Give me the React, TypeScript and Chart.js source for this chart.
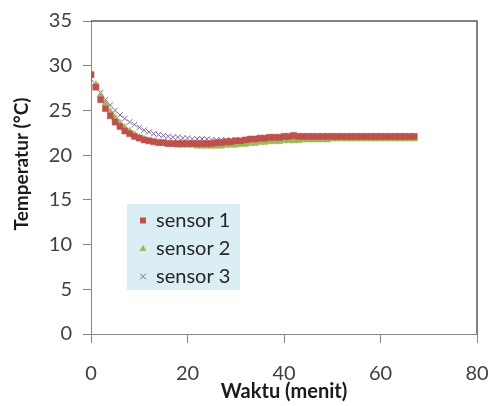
import React, { useEffect, useRef } from "react";
import { Chart, registerables } from "chart.js";

Chart.register(...registerables);

const minutes: number[] = Array.from({ length: 68 }, (_, i) => i);

const sensor1: number[] = [
  29.0, 27.6, 26.2, 25.2, 24.4, 23.7, 23.2, 22.7, 22.4, 22.1,
  21.9, 21.7, 21.6, 21.5, 21.4, 21.4, 21.3, 21.3, 21.3, 21.3,
  21.3, 21.3, 21.3, 21.3, 21.3, 21.3, 21.4, 21.4, 21.5, 21.5,
  21.6, 21.6, 21.7, 21.8, 21.8, 21.9, 21.9, 22.0, 22.0, 22.0,
  22.1, 22.1, 22.2, 22.1, 22.1, 22.1, 22.1, 22.1, 22.1, 22.1,
  22.1, 22.1, 22.1, 22.1, 22.1, 22.1, 22.1, 22.1, 22.1, 22.1,
  22.1, 22.1, 22.1, 22.1, 22.1, 22.1, 22.1, 22.1,
];

const sensor2: number[] = [
  29.2, 27.9, 26.7, 25.8, 24.9, 24.2, 23.6, 23.1, 22.7, 22.3,
  22.0, 21.8, 21.6, 21.5, 21.4, 21.3, 21.2, 21.2, 21.1, 21.1,
  21.1, 21.1, 21.0, 21.0, 21.0, 21.0, 21.0, 21.0, 21.1, 21.1,
  21.1, 21.2, 21.2, 21.3, 21.3, 21.4, 21.4, 21.5, 21.5, 21.5,
  21.6, 21.6, 21.6, 21.6, 21.7, 21.7, 21.7, 21.7, 21.7, 21.7,
  21.8, 21.8, 21.8, 21.8, 21.8, 21.8, 21.8, 21.8, 21.8, 21.8,
  21.8, 21.8, 21.8, 21.8, 21.8, 21.8, 21.8, 21.8,
];

const sensor3: number[] = [
  28.5, 27.8, 27.0, 26.2, 25.6, 25.0, 24.5, 24.1, 23.7, 23.4,
  23.1, 22.8, 22.6, 22.4, 22.3, 22.2, 22.1, 22.0, 22.0, 21.9,
  21.9, 21.8, 21.8, 21.8, 21.8, 21.7, 21.7, 21.7, 21.7, 21.7,
  21.7, 21.7, 21.7, 21.8, 21.8, 21.8, 21.8, 21.8, 21.8, 21.8,
  21.9, 21.9, 21.9, 21.9, 21.9, 21.9, 21.9, 21.9, 21.9, 21.9,
  21.9, 21.9, 21.9, 21.9, 21.9, 21.9, 21.9, 21.9, 21.9, 21.9,
  21.9, 21.9, 21.9, 21.9, 21.9, 21.9, 21.9, 21.9,
];

const seriesLabels: string[] = ["sensor 1", "sensor 2", "sensor 3"];
const seriesColors: string[] = ["#C0504D", "#9BBB59", "#8064A2"];
const xTitle = "Waktu (menit)";
const yTitle = "Temperatur (°C)";

const FONT = "Lato, 'Open Sans', sans-serif";

function drawMarker(ctx: CanvasRenderingContext2D, kind: number, x: number, y: number, color: string) {
  ctx.save();
  ctx.fillStyle = color;
  ctx.strokeStyle = color;
  if (kind === 0) {
    ctx.fillRect(x - 3, y - 3, 6, 6);
  } else if (kind === 1) {
    ctx.beginPath();
    ctx.moveTo(x, y - 3.8);
    ctx.lineTo(x + 3.5, y + 2.6);
    ctx.lineTo(x - 3.5, y + 2.6);
    ctx.closePath();
    ctx.fill();
  } else {
    ctx.lineWidth = 1;
    ctx.beginPath();
    ctx.moveTo(x - 2.8, y - 2.8);
    ctx.lineTo(x + 2.8, y + 2.8);
    ctx.moveTo(x + 2.8, y - 2.8);
    ctx.lineTo(x - 2.8, y + 2.8);
    ctx.stroke();
  }
  ctx.restore();
}

const extrasPlugin = {
  id: "extras",
  afterDraw(chart: any) {
    const { ctx, chartArea } = chart;
    const { left, right, top, bottom } = chartArea;
    ctx.save();
    // plot frame top & right
    ctx.strokeStyle = "#5A5A5A";
    ctx.lineWidth = 1.5;
    ctx.beginPath();
    ctx.moveTo(left, top);
    ctx.lineTo(right, top);
    ctx.lineTo(right, bottom);
    ctx.stroke();

    // y title
    ctx.fillStyle = "#1a1a1a";
    ctx.font = `bold 19px ${FONT}`;
    ctx.textAlign = "center";
    ctx.textBaseline = "middle";
    ctx.translate(22, 164);
    ctx.rotate(-Math.PI / 2);
    ctx.fillText(yTitle, 0, 0);
    ctx.restore();

    // legend
    ctx.save();
    ctx.fillStyle = "#DAEEF3";
    ctx.fillRect(127, 204, 113, 86);
    ctx.font = `20px ${FONT}`;
    ctx.textAlign = "left";
    ctx.textBaseline = "middle";
    chart.data.datasets.forEach((ds: any, i: number) => {
      const y = 220.5 + i * 28;
      drawMarker(ctx, i, 143, y, seriesColors[i]);
      ctx.fillStyle = "#262626";
      ctx.fillText(ds.label, 156, y);
    });
    ctx.restore();
  },
};

export default function App() {
  const ref = useRef<HTMLCanvasElement | null>(null);

  useEffect(() => {
    if (!ref.current) return;
    const mk = (vals: number[]) => minutes.map((m, i) => ({ x: m, y: vals[i] }));
    const chart = new Chart(ref.current, {
      type: "scatter",
      data: {
        datasets: [
          {
            label: seriesLabels[0],
            data: mk(sensor1),
            pointStyle: "rect",
            pointRadius: 4.3,
            backgroundColor: seriesColors[0],
            borderColor: "rgba(192,80,77,0.6)",
            borderWidth: 0.8,
          },
          {
            label: seriesLabels[1],
            data: mk(sensor2),
            pointStyle: "triangle",
            pointRadius: 4,
            backgroundColor: seriesColors[1],
            borderColor: "rgba(155,187,89,0.6)",
            borderWidth: 0.8,
          },
          {
            label: seriesLabels[2],
            data: mk(sensor3),
            pointStyle: "crossRot",
            pointRadius: 3.9,
            backgroundColor: seriesColors[2],
            borderColor: seriesColors[2],
            borderWidth: 1,
          },
        ],
      },
      options: {
        animation: false,
        responsive: false,
        maintainAspectRatio: false,
        layout: { padding: { left: 0, top: 21, right: 11, bottom: 0 } },
        plugins: {
          legend: { display: false },
          tooltip: { enabled: false },
        },
        scales: {
          x: {
            type: "linear",
            min: 0,
            max: 80,
            ticks: {
              stepSize: 20,
              color: "#404040",
              font: { family: FONT, size: 20 },
              padding: 19,
              maxRotation: 0,
            },
            grid: { drawOnChartArea: false, tickLength: 9, color: "#868686" },
            border: { color: "#868686", width: 1 },
            title: {
              display: true,
              text: xTitle,
              color: "#1a1a1a",
              font: { family: FONT, size: 20, weight: "bold" },
              padding: { top: 0, bottom: 2 },
            },
            afterFit: (s: any) => {
              s.height = 72;
              s.paddingLeft = 0;
              s.paddingRight = 0;
            },
          },
          y: {
            min: 0,
            max: 35,
            ticks: {
              stepSize: 5,
              color: "#404040",
              font: { family: FONT, size: 20 },
              padding: 11,
            },
            grid: { drawOnChartArea: false, tickLength: 8, color: "#868686" },
            border: { color: "#868686", width: 1 },
            afterFit: (s: any) => {
              s.width = 91;
              s.paddingTop = 0;
              s.paddingBottom = 0;
            },
          },
        },
      },
      plugins: [extrasPlugin],
    });
    return () => chart.destroy();
  }, []);

  return (
    <div style={{ position: "fixed", left: 0, top: 0, width: 488, height: 406, background: "#fff" }}>
      <canvas ref={ref} width={488} height={406} style={{ width: 488, height: 406 }} />
    </div>
  );
}
